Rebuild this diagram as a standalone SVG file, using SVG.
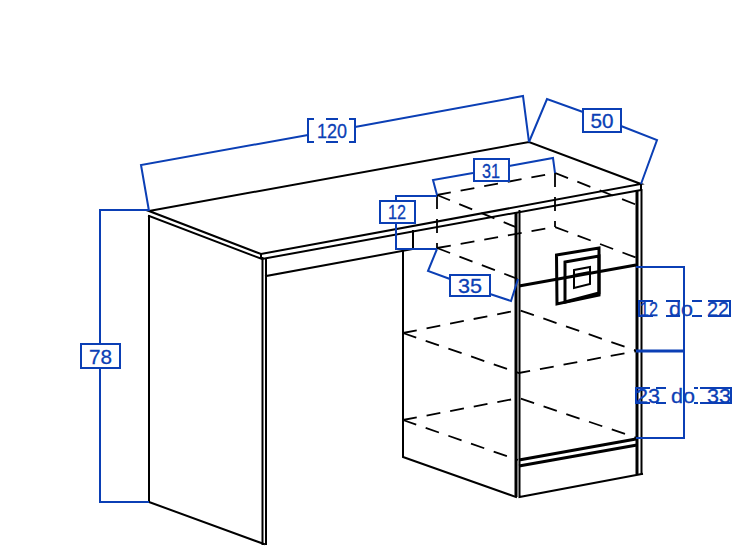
<svg xmlns="http://www.w3.org/2000/svg" width="754" height="559" viewBox="0 0 754 559">
<style>
.k{fill:none;stroke:#000;stroke-width:2;stroke-linecap:square}
.h{fill:none;stroke:#000;stroke-width:3}
.d{fill:none;stroke:#000;stroke-width:1.8;stroke-dasharray:14 10}
.b{fill:none;stroke:#0b3fb5;stroke-width:2}
.bt{fill:none;stroke:#0b3fb5;stroke-width:3}
text{font-family:"Liberation Sans",Arial,sans-serif;font-size:21px;fill:#0b3fb5;stroke:#0b3fb5;stroke-width:.3;text-anchor:middle}
</style>
<rect width="754" height="559" fill="#fff"/>
<g id="desk-top">
<path class="k" d="M149 211L529 142L641 184L261 254Z"/>
<path class="k" d="M149 216L262 259L641 190M641 184V190M261 254V259"/>
</g>
<g id="left-panel">
<path class="k" d="M149 216V502L264 544M262.500 258V544M266 259V544"/>
<path class="k" d="M266 276L413 249V231"/>
</g>
<g id="cabinet">
<path class="k" d="M403 250V457L516 497"/>
<path class="h" d="M516 212V497"/>
<path class="k" d="M519.500 211V497L642 474"/>
<path class="h" d="M637 191V474"/>
<path class="k" d="M641.500 190V474"/>
<path class="h" d="M519 286L636 265"/>
<path class="h" d="M519 460L636 439M519 466L637 445"/>
</g>
<g id="handle">
<path class="h" d="M556.500 255L599 248V295L557 304Z"/>
<path class="h" d="M565 262L599 256V293L565 302Z"/>
<path class="k" d="M574 270L590 267V284L574 288ZM574 275L590 272"/>
</g>
<g id="shelves">
<path class="d" d="M437 195L555 173L637 205"/>
<path class="d" d="M437 195L518 228"/>
<path class="d" d="M437 195V248M555 173V227"/>
<path class="d" d="M437 248L555 227L637 258"/>
<path class="d" d="M437 248L518 279"/>
<path class="d" d="M403 333L519 310L637 351"/>
<path class="d" d="M403 333L519 373L637 351"/>
<path class="d" d="M403 420L519 398L637 438"/>
<path class="d" d="M403 420L518 460"/>
</g>
<g id="connectors">
<path class="b" d="M149 211L141 165L308 135M355 127L523 96L529 142"/>
<path class="b" d="M529 142L547 99L583 112M621 126L657 140L641 184"/>
<path class="b" d="M149 210H100V344M100 368V502H149"/>
<path class="b" d="M437 195L433 180L473 173M509 166L553 158L555 173"/>
<path class="b" d="M437 196H396V201M396 223V249H437"/>
<path class="b" d="M437 249L428 271L450 279M490 294L511 301L518 279"/>
<path class="b" d="M636 267H684V438H636"/>
<path class="bt" d="M636 351H684"/>
</g>
<g id="dim-120"><path class="b" d="M314 119H308V142H314M349 119H355V142H349M326 119H338M326 142H338"/><text x="332" y="138" textLength="30" lengthAdjust="spacingAndGlyphs">120</text></g>
<g id="dim-50"><rect class="b" x="583" y="109" width="38" height="23"/><text x="602" y="128" textLength="23" lengthAdjust="spacingAndGlyphs">50</text></g>
<g id="dim-78"><rect class="b" x="81" y="344" width="39" height="24"/><text x="100.500" y="364" textLength="23" lengthAdjust="spacingAndGlyphs">78</text></g>
<g id="dim-31"><rect class="b" x="474" y="159" width="35" height="22"/><text x="491" y="178" textLength="18" lengthAdjust="spacingAndGlyphs">31</text></g>
<g id="dim-12"><rect class="b" x="380" y="201" width="35" height="22"/><text x="397" y="219" textLength="18" lengthAdjust="spacingAndGlyphs">12</text></g>
<g id="dim-35"><rect class="b" x="450" y="275" width="40" height="21"/><text x="470" y="293" textLength="24" lengthAdjust="spacingAndGlyphs">35</text></g>
<g id="dim-12-22">
<path class="b" d="M653 301H639V316H653M666 301H680M692 301H702M666 316H680M692 316H702M708 301H730V316H708"/>
<text x="649" y="316" textLength="18" lengthAdjust="spacingAndGlyphs">12</text>
<text x="681" y="316" textLength="24" lengthAdjust="spacingAndGlyphs">do</text>
<text x="718" y="316" textLength="22" lengthAdjust="spacingAndGlyphs">22</text>
</g>
<g id="dim-23-33">
<path class="b" d="M650 388H636V403H650M656 388H666M694 388H698M656 403H666M694 403H698M700 388H731V403H700"/>
<text x="648" y="403" textLength="24" lengthAdjust="spacingAndGlyphs">23</text>
<text x="683" y="403" textLength="24" lengthAdjust="spacingAndGlyphs">do</text>
<text x="719" y="403" textLength="24" lengthAdjust="spacingAndGlyphs">33</text>
</g>
</svg>
